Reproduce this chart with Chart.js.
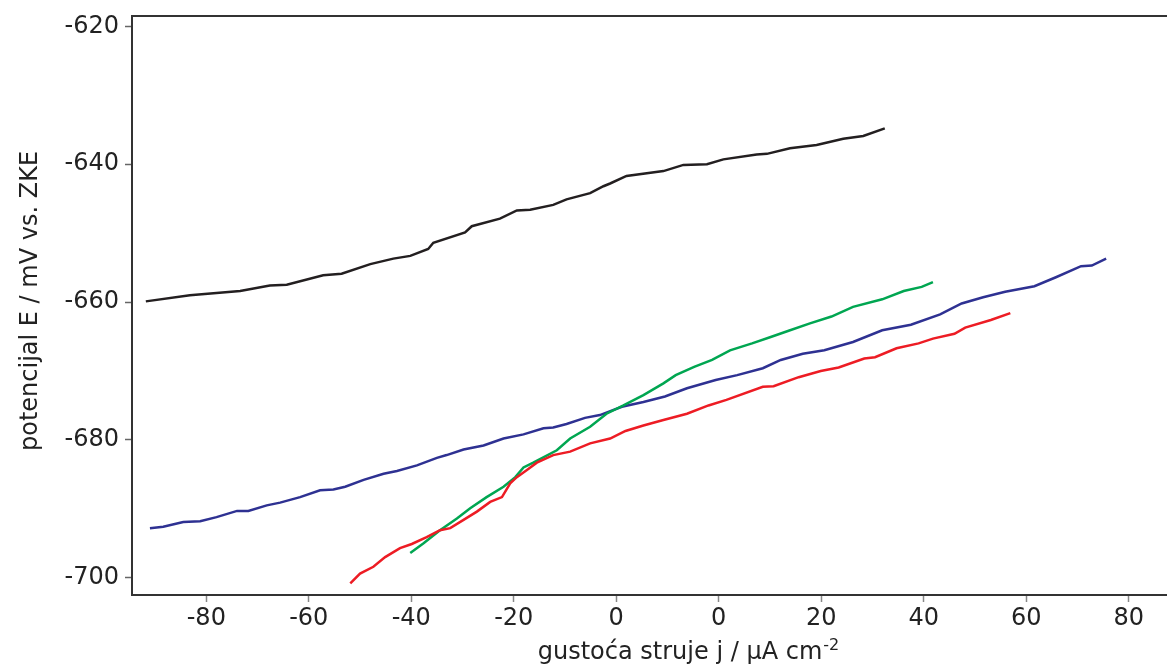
<!DOCTYPE html>
<html>
<head>
<meta charset="utf-8">
<title>Polarizacijske krivulje</title>
<script src="https://cdn.jsdelivr.net/npm/chart.js@4.4.1/dist/chart.umd.min.js"></script>
<style>
  html, body { margin: 0; padding: 0; background: #fff; overflow: hidden; }
  #wrap { position: relative; width: 1250px; height: 664px; }
</style>
</head>
<body>
<div id="wrap"><canvas id="polarChart"></canvas></div>
<script>
// current density j (axis units) and potential E / mV for each curve
const blackJ = [-91.8, -83.2, -73.4, -67.6, -64.3, -57.2, -53.6, -48.0, -43.5, -40.2, -36.7, -35.7, -29.5, -28.2, -22.7, -19.4, -16.8, -12.3, -9.7, -5.1, -2.5, -1.2, 2.0, 9.2, 13.1, 17.7, 20.9, 27.4, 29.4, 33.9, 39.1, 44.3, 48.2, 52.4];
const blackE = [-659.9, -659.0, -658.4, -657.6, -657.5, -656.1, -655.9, -654.5, -653.7, -653.3, -652.3, -651.4, -649.9, -649.0, -647.9, -646.7, -646.6, -645.9, -645.1, -644.2, -643.2, -642.8, -641.7, -641.0, -640.1, -640.0, -639.3, -638.6, -638.5, -637.7, -637.2, -636.3, -635.9, -634.8];

const blueJ = [-91.0, -88.4, -84.5, -81.2, -78.0, -74.0, -71.8, -68.2, -65.6, -61.7, -57.8, -55.2, -52.9, -49.3, -45.4, -42.8, -38.9, -35.0, -33.1, -29.8, -25.9, -22.0, -18.1, -14.2, -12.3, -9.7, -6.1, -3.2, 1.1, 5.3, 9.5, 13.8, 19.4, 23.6, 28.6, 32.1, 36.4, 40.6, 46.2, 51.9, 57.5, 63.2, 67.4, 71.6, 75.9, 81.6, 85.8, 90.7, 92.8, 95.6];
const blueE = [-692.8, -692.6, -691.9, -691.8, -691.2, -690.3, -690.3, -689.5, -689.1, -688.3, -687.3, -687.2, -686.8, -685.8, -684.9, -684.5, -683.7, -682.6, -682.2, -681.4, -680.8, -679.8, -679.2, -678.3, -678.2, -677.7, -676.8, -676.4, -675.2, -674.5, -673.7, -672.5, -671.3, -670.6, -669.6, -668.4, -667.5, -667.0, -665.8, -664.1, -663.3, -661.8, -660.2, -659.3, -658.5, -657.7, -656.4, -654.8, -654.7, -653.7];

const greenJ = [-40.2, -37.6, -34.4, -31.1, -28.5, -25.3, -22.0, -19.7, -18.1, -16.2, -11.6, -9.0, -5.1, -1.9, 1.4, 5.3, 9.2, 11.6, 15.2, 18.7, 22.2, 26.5, 30.0, 33.5, 37.8, 42.0, 46.2, 51.9, 56.1, 59.6, 61.8];
const greenE = [-696.4, -695.0, -693.1, -691.4, -689.9, -688.3, -686.8, -685.4, -684.0, -683.3, -681.5, -679.8, -678.1, -676.2, -675.0, -673.5, -671.8, -670.6, -669.4, -668.4, -667.0, -666.0, -665.1, -664.2, -663.1, -662.1, -660.7, -659.6, -658.4, -657.8, -657.1];

const redJ = [-51.9, -50.0, -47.4, -45.1, -42.2, -39.9, -37.0, -34.4, -32.4, -29.8, -27.2, -24.6, -22.3, -20.7, -19.4, -17.5, -15.5, -12.3, -9.0, -5.1, -1.2, 1.8, 5.3, 9.2, 13.8, 18.0, 21.5, 28.6, 30.7, 35.6, 39.9, 43.4, 48.4, 50.5, 54.7, 59.0, 61.8, 66.0, 68.1, 73.1, 76.9];
const redE = [-700.8, -699.4, -698.4, -697.0, -695.7, -695.1, -694.1, -693.1, -692.8, -691.6, -690.4, -689.0, -688.3, -686.3, -685.4, -684.4, -683.3, -682.2, -681.7, -680.5, -679.8, -678.7, -677.9, -677.1, -676.2, -675.0, -674.2, -672.3, -672.2, -670.9, -670.0, -669.5, -668.2, -668.0, -666.7, -666.0, -665.3, -664.6, -663.7, -662.6, -661.6];

// axis ticks (the printed labels repeat "0", as in the original figure)
const xTickValues = [-80, -60, -40, -20, 0, 20, 40, 60, 80, 100];
const xTickLabels = ['-80', '-60', '-40', '-20', '0', '0', '20', '40', '60', '80'];
const yTickValues = [-700, -680, -660, -640, -620];

const xTitle = 'gustoća struje j / µA cm';
const xTitleSup = '-2';
const yTitle = 'potencijal E / mV vs. ZKE';

const toPoints = (xs, ys) => xs.map((x, i) => ({ x: x, y: ys[i] }));

const FONT = '"DejaVu Sans", sans-serif';
Chart.defaults.font.family = FONT;
Chart.defaults.font.size = 24;
Chart.defaults.color = '#222';

const frameAndTitles = {
    id: 'frameAndTitles',
    afterDraw(chart) {
        const { ctx, chartArea } = chart;
        ctx.save();
        // top edge of the frame
        ctx.strokeStyle = '#333';
        ctx.lineWidth = 2;
        ctx.beginPath();
        ctx.moveTo(chartArea.left - 1, chartArea.top);
        ctx.lineTo(chartArea.right, chartArea.top);
        ctx.stroke();

        ctx.fillStyle = '#222';
        // x title with superscript
        ctx.font = '24px ' + FONT;
        const w1 = ctx.measureText(xTitle).width;
        ctx.font = '16px ' + FONT;
        const w2 = ctx.measureText(xTitleSup).width;
        const x0 = (chartArea.left + chartArea.right) / 2 - (w1 + w2) / 2;
        ctx.textBaseline = 'alphabetic';
        ctx.textAlign = 'left';
        ctx.font = '24px ' + FONT;
        ctx.fillText(xTitle, x0, 659);
        ctx.font = '16px ' + FONT;
        ctx.fillText(xTitleSup, x0 + w1 + 1, 650);

        // y title
        ctx.font = '24px ' + FONT;
        ctx.translate(37, 301);
        ctx.rotate(-Math.PI / 2);
        ctx.textAlign = 'center';
        ctx.fillText(yTitle, 0, 0);
        ctx.restore();
    }
};

const lineStyle = (color) => ({
    borderColor: color,
    backgroundColor: color,
    borderWidth: 2.5,
    pointRadius: 0,
    tension: 0,
    fill: false
});

const polarChart = new Chart(document.getElementById('polarChart'), {
    type: 'line',
    data: {
        datasets: [
            { label: 'red', data: toPoints(redJ, redE), ...lineStyle('#ed1c24') },
            { label: 'green', data: toPoints(greenJ, greenE), ...lineStyle('#00a651') },
            { label: 'blue', data: toPoints(blueJ, blueE), ...lineStyle('#2e3192') },
            { label: 'black', data: toPoints(blackJ, blackE), ...lineStyle('#231f20') }
        ]
    },
    options: {
        responsive: true,
        maintainAspectRatio: false,
        animation: false,
        layout: { padding: { top: 16, right: 6, left: 0, bottom: 0 } },
        plugins: { legend: { display: false }, tooltip: { enabled: false } },
        scales: {
            x: {
                type: 'linear',
                min: -94.5,
                max: 122.5,
                afterBuildTicks: (scale) => { scale.ticks = xTickValues.map(v => ({ value: v })); },
                afterFit: (scale) => { scale.height = 69; scale.paddingLeft = 0; scale.paddingRight = 0; },
                ticks: {
                    padding: 2,
                    maxRotation: 0,
                    callback: (value, index) => xTickLabels[index]
                },
                grid: { drawOnChartArea: false, tickLength: 7, tickColor: '#888', tickWidth: 1.5 },
                border: { display: true, color: '#333', width: 2 }
            },
            y: {
                type: 'linear',
                min: -702.5,
                max: -618.5,
                afterBuildTicks: (scale) => { scale.ticks = yTickValues.map(v => ({ value: v })); },
                afterFit: (scale) => { scale.width = 132; scale.paddingTop = 0; scale.paddingBottom = 0; },
                ticks: { padding: 6, callback: (value) => String(value) },
                grid: { drawOnChartArea: false, tickLength: 7, tickColor: '#666', tickWidth: 1.5 },
                border: { display: true, color: '#333', width: 2 }
            }
        }
    },
    plugins: [frameAndTitles]
});
</script>
</body>
</html>
